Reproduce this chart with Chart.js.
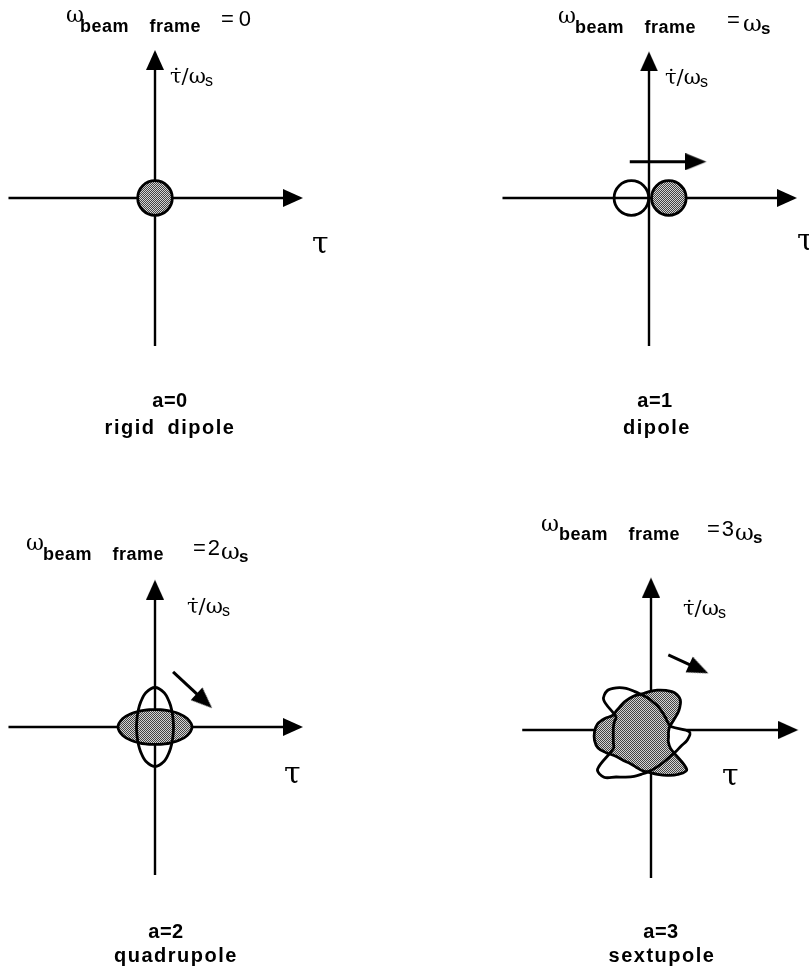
<!DOCTYPE html>
<html>
<head>
<meta charset="utf-8">
<title>Beam frame modes a=0..3</title>
<script src="https://cdn.jsdelivr.net/npm/chart.js@4.4.1/dist/chart.umd.min.js"></script>
<style>
  html, body { margin: 0; padding: 0; background: #fff; overflow: hidden; }
  #page { position: relative; width: 809px; height: 972px; overflow: hidden; background: #fff; }
  #page canvas { position: absolute; }
  .t { position: absolute; white-space: nowrap; line-height: 1; color: #000; }
  .sans { font-family: "Liberation Sans", Arial, sans-serif; }
  .bold { font-weight: bold; }
  .greek { font-family: "DejaVu Serif", serif; }
  .mid { transform: translateX(-50%); }
</style>
</head>
<body>
<div id="page"></div>
<script>
// --- data --------------------------------------------------------------
// mode number and name under each panel
const modeNumbers = [0, 1, 2, 3];
const modeNames = ['rigid dipole', 'dipole', 'quadrupole', 'sextupole'];
// ω_beam frame = (coefficient) ω_s ; '0' means no ω_s
const frameCoeffs = ['0', '', '2', '3'];

// axis extents, same units in every panel (τ horizontal, τ̇/ω_s vertical)
const tauAxes = [[-9.9, 10], [-9.9, 10], [-9.9, 10], [-8.7, 9.95]];
const rateAxes = [[-10, 10], [-10, 9.9], [-10, 9.95], [-10, 10.3]];

// a=0 : bunch at rest in the origin
const rigidBunch = [[0, 0]];
// a=1 : bunch before (open) and after (shaded) moving along τ
const dipoleOpen = [[-1.19, 0]];
const dipoleShaded = [[1.34, 0]];

// motion arrows [start, tip]
const dipoleArrow = [[-1.3, 2.45], [3.88, 2.45]];
const quadArrow = [[1.22, 3.72], [3.85, 1.28]];
const sextArrow = [[1.17, 5.07], [3.87, 3.83]];

// a=2 outlines: radius every 15 deg, clockwise from the top
const quadBearings = [0, 15, 30, 45, 60, 75, 90, 105, 120, 135, 150, 165,
                      180, 195, 210, 225, 240, 255, 270, 285, 300, 315, 330, 345];
const quadRod = [2.67, 2.40, 1.94, 1.60, 1.39, 1.28, 1.25, 1.28, 1.39, 1.60, 1.94, 2.40,
                 2.67, 2.40, 1.94, 1.60, 1.39, 1.28, 1.25, 1.28, 1.39, 1.60, 1.94, 2.40];
const quadBar = [1.18, 1.21, 1.32, 1.51, 1.83, 2.25, 2.50, 2.25, 1.83, 1.51, 1.32, 1.21,
                 1.18, 1.21, 1.32, 1.51, 1.83, 2.25, 2.50, 2.25, 1.83, 1.51, 1.32, 1.21];

// a=3 outlines: radius every 10 deg, clockwise from the top
const sextBearings = [0, 10, 20, 30, 40, 50, 60, 70, 80, 90, 100, 110,
                      120, 130, 140, 150, 160, 170, 180, 190, 200, 210, 220, 230,
                      240, 250, 260, 270, 280, 290, 300, 310, 320, 330, 340, 350];
const sextCentre = [-0.6, -0.14];
const sextOpen = [2.50, 2.33, 2.16, 2.06, 1.96, 1.89, 1.86, 1.86, 2.03, 3.21, 3.11, 2.80,
                  2.64, 2.53, 2.50, 2.53, 2.60, 2.70, 2.84, 3.04, 3.24, 3.51, 3.99, 3.92,
                  2.23, 2.06, 1.97, 1.94, 1.96, 1.99, 2.03, 3.38, 3.65, 3.45, 3.14, 2.77];
const sextShaded = [2.57, 2.77, 3.01, 3.24, 3.45, 3.38, 2.87, 2.26, 1.89, 1.79, 1.82, 1.89,
                    2.23, 3.95, 3.75, 3.38, 3.04, 2.77, 2.60, 2.40, 2.28, 2.28, 2.33, 2.47,
                    2.80, 3.16, 3.26, 3.21, 3.06, 2.67, 2.26, 2.25, 2.27, 2.36, 2.43, 2.51];

// --- layout ------------------------------------------------------------
const UNIT = 14.8;          // px per data unit
const HALF = 200;           // half size of each chart canvas
const origins = [[155, 198], [649, 198], [155, 727], [651, 730]];
const page = document.getElementById('page');

function put(text, x, base, size, cls, extra) {
    const d = document.createElement('div');
    d.className = 't ' + cls;
    d.textContent = text;
    d.style.left = x + 'px';
    d.style.top = (base - 0.846 * size) + 'px';
    d.style.fontSize = size + 'px';
    Object.assign(d.style, extra || {});
    page.appendChild(d);
}

function makeCanvas(cx, cy) {
    const c = document.createElement('canvas');
    c.width = 2 * HALF; c.height = 2 * HALF;
    c.style.left = (cx - HALF) + 'px';
    c.style.top = (cy - HALF) + 'px';
    page.appendChild(c);
    return c;
}

function stippleFor(canvas) {
    const tile = document.createElement('canvas');
    tile.width = 2; tile.height = 2;
    const g = tile.getContext('2d');
    g.fillStyle = '#d4d4d4'; g.fillRect(0, 0, 2, 2);
    g.fillStyle = '#444'; g.fillRect(0, 0, 1, 1); g.fillRect(1, 1, 1, 1);
    return canvas.getContext('2d').createPattern(tile, 'repeat');
}

// arrow head pointing up, tip at the image centre
function makeHead(len, wid) {
    const c = document.createElement('canvas');
    c.width = wid; c.height = 2 * len;
    const g = c.getContext('2d');
    g.fillStyle = '#000';
    g.beginPath();
    g.moveTo(wid / 2, len);
    g.lineTo(wid, 2 * len);
    g.lineTo(0, 2 * len);
    g.closePath();
    g.fill();
    return c;
}
const axisHead = makeHead(20, 18);
const moveHead = makeHead(21, 17);

const pt = ([x, y]) => ({x, y});

// shaft + head for an arrow given as [start, tip]
function arrowSets(arrow, head, width) {
    const [s, e] = arrow;
    const dx = e[0] - s[0], dy = e[1] - s[1];
    const n = Math.hypot(dx, dy);
    const back = (head.height / 4) / UNIT;   // stop the shaft inside the head
    const end = [e[0] - dx / n * back, e[1] - dy / n * back];
    return [
        { data: [pt(e)], showLine: false, pointStyle: head, pointRadius: 5,
          pointRotation: Math.atan2(dx, dy) * 180 / Math.PI },
        { data: [pt(s), pt(end)], showLine: true, borderColor: '#000',
          borderWidth: width, pointRadius: 0 }
    ];
}

function bunchSet(points, bg) {
    return { data: points.map(pt), showLine: false, pointStyle: 'circle',
             pointRadius: 17.3, pointBackgroundColor: bg,
             pointBorderColor: '#000', pointBorderWidth: 2.8 };
}

const baseOptions = {
    responsive: false,
    animation: false,
    events: [],
    layout: { padding: 0, autoPadding: false },
    plugins: { legend: { display: false }, tooltip: { enabled: false } }
};

function drawPanel(i, extraSets) {
    const [ox, oy] = origins[i];
    const canvas = makeCanvas(ox, oy);
    const span = HALF / UNIT;
    const sets = [].concat(
        extraSets(canvas),
        arrowSets([[tauAxes[i][0], 0], [tauAxes[i][1], 0]], axisHead, 2.4),
        arrowSets([[0, rateAxes[i][0]], [0, rateAxes[i][1]]], axisHead, 2.4)
    );
    new Chart(canvas, {
        type: 'scatter',
        data: { datasets: sets },
        options: Object.assign({}, baseOptions, {
            scales: {
                x: { type: 'linear', display: false, min: -span, max: span },
                y: { type: 'linear', display: false, min: -span, max: span }
            }
        })
    });
}

// closed outlines on a radial scale centred on `centre`;
// fills are painted before all lines, the last dataset's fill first
function drawOutlines(i, centre, bearings, sets) {
    const [ox, oy] = origins[i];
    const canvas = makeCanvas(ox + centre[0] * UNIT, oy - centre[1] * UNIT);
    new Chart(canvas, {
        type: 'radar',
        data: { labels: bearings, datasets: sets(canvas) },
        options: Object.assign({}, baseOptions, {
            plugins: Object.assign({}, baseOptions.plugins,
                { filler: { drawTime: 'beforeDatasetsDraw' } }),
            elements: { line: { tension: 0.34, borderWidth: 2.8, borderColor: '#000' },
                        point: { radius: 0 } },
            scales: { r: { display: false, min: 0, max: HALF / UNIT } }
        })
    });
}

// panel a=0
drawPanel(0, c => [bunchSet(rigidBunch, stippleFor(c))]);
// panel a=1
drawPanel(1, c => [bunchSet(dipoleShaded, stippleFor(c)),
                   bunchSet(dipoleOpen, 'rgba(0,0,0,0)')]
                   .concat(arrowSets(dipoleArrow, moveHead, 3)));
// panel a=2
drawPanel(2, c => arrowSets(quadArrow, moveHead, 3));
drawOutlines(2, [0, 0], quadBearings, c => [
    { data: quadRod, fill: false },
    { data: quadBar, fill: 'shape', backgroundColor: stippleFor(c) }
]);
// panel a=3 : open outline is white inside, shaded one is painted over it
drawPanel(3, c => arrowSets(sextArrow, moveHead, 3));
drawOutlines(3, sextCentre, sextBearings, c => [
    { data: sextShaded, fill: 'shape', backgroundColor: stippleFor(c) },
    { data: sextOpen, fill: 'shape', backgroundColor: '#fff' }
]);

// --- text --------------------------------------------------------------
const subStyle = { letterSpacing: '0.5px', wordSpacing: '15px' };
// [ω x, ω base, sub x, sub base, '=' x, '=' base]
const titlePos = [[66, 23, 80, 32, 221, 27], [558, 24, 575, 33, 727, 28],
                  [26, 551, 43, 560, 193, 556], [541, 532, 559, 540, 707, 537]];
titlePos.forEach((p, i) => {
    put('ω', p[0], p[1], 22, 'greek');
    put('beam frame', p[2], p[3], 18, 'sans bold', subStyle);
    if (frameCoeffs[i] === '0') {
        put('=0', p[4], p[5], 22, 'sans', { letterSpacing: '5px' });
    } else {
        put('=' + frameCoeffs[i], p[4], p[5], 22, 'sans', { letterSpacing: '2px' });
        const w = p[4] + (frameCoeffs[i] ? 28 : 16);
        put('ω', w, p[5] + 3, 23, 'greek');
        put('s', w + 18, p[5] + 6, 17, 'sans bold');
    }
});

// τ̇/ω_s on the vertical axis, τ on the horizontal axis
const rateLabelPos = [[170, 84], [665, 85], [187, 614], [683, 616]];
rateLabelPos.forEach(([x, b]) => {
    put('τ\u0307/ω', x, b, 21, 'greek');
    put('s', x + 35, b + 3, 16, 'sans');
});
const tauLabelPos = [[312, 253], [797, 250], [284, 783], [722, 785]];
tauLabelPos.forEach(([x, b]) => put('τ', x, b, 30, 'greek'));

// a=… and mode name under each panel
const modePos = [[170, 407, 170, 434], [655, 407, 657, 434],
                 [166, 938, 176, 962], [661, 938, 662, 962]];
modePos.forEach((p, i) => {
    put('a=' + modeNumbers[i], p[0], p[1], 20, 'sans bold mid', { letterSpacing: '0.5px' });
    put(modeNames[i], p[2], p[3], 20, 'sans bold mid', { letterSpacing: '1.5px', wordSpacing: '5px' });
});
</script>
</body>
</html>
